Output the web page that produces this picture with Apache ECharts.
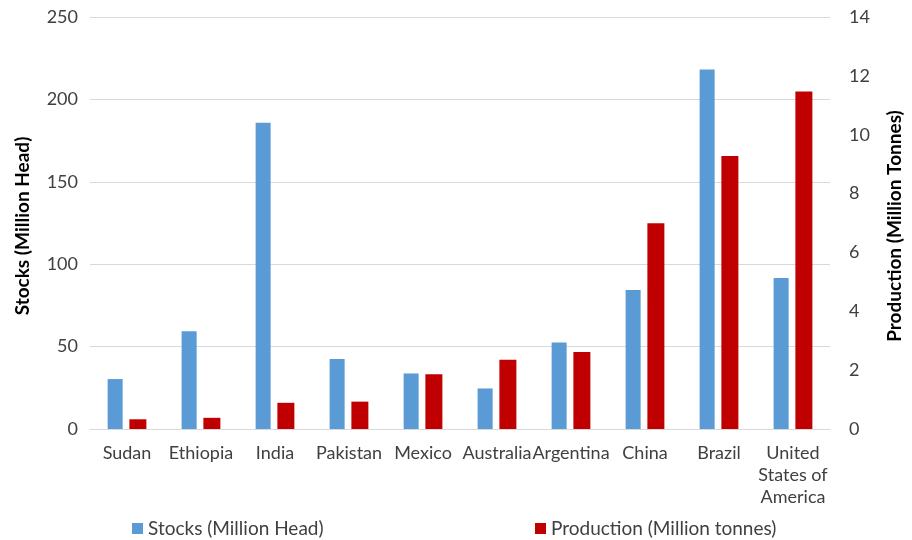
<!DOCTYPE html>
<html>
<head>
<meta charset="utf-8">
<script src="https://cdn.jsdelivr.net/npm/echarts@6/dist/echarts.min.js"></script>
<style>html,body{margin:0;padding:0;background:#fff}#c{width:912px;height:540px}</style>
</head>
<body>
<div id="c"></div>
<script>
const categories = ['Sudan','Ethiopia','India','Pakistan','Mexico','Australia','Argentina','China','Brazil','United\nStates of\nAmerica'];
const stocks = [30.3, 59.3, 185.8, 42.4, 33.7, 24.6, 52.5, 84.3, 218.1, 91.6];
const production = [0.33, 0.38, 0.89, 0.93, 1.86, 2.35, 2.62, 6.99, 9.28, 11.47];
const leftTicks = [0, 50, 100, 150, 200, 250];
const rightTicks = [0, 2, 4, 6, 8, 10, 12, 14];

const FONT = 'Lato';
const TXT = '#404040';
const FS = 18;
const chart = echarts.init(document.getElementById('c'));
chart.setOption({
  animation: false,
  textStyle: { fontFamily: FONT },
  grid: { left: 90, right: 82, top: 17, bottom: 111, containLabel: false },
  legend: [
    { left: 132, top: 519, padding: 0, itemWidth: 11, itemHeight: 11, icon: 'rect', itemGap: 0,
      data: ['Stocks (Million Head)'], textStyle: { fontFamily: FONT, fontSize: 19, color: TXT } },
    { left: 535, top: 519, padding: 0, itemWidth: 11, itemHeight: 11, icon: 'rect', itemGap: 0,
      data: ['Production (Million tonnes)'], textStyle: { fontFamily: FONT, fontSize: 19, color: TXT } }
  ],
  xAxis: {
    type: 'category',
    data: categories,
    axisLine: { lineStyle: { color: '#d9d9d9', width: 1 } },
    axisTick: { show: false },
    axisLabel: { interval: 0, fontFamily: FONT, fontSize: FS, color: TXT, lineHeight: 22, margin: 13 }
  },
  yAxis: [
    {
      type: 'value', min: leftTicks[0], max: leftTicks[leftTicks.length - 1], interval: leftTicks[1] - leftTicks[0],
      name: 'Stocks (Million Head)', nameLocation: 'middle', nameGap: 58, nameRotate: 90,
      nameTextStyle: { fontFamily: FONT, fontSize: 19, fontWeight: 'bold', color: '#000', padding: [0, 6, 0, 0] },
      axisLine: { show: false }, axisTick: { show: false },
      axisLabel: { fontFamily: FONT, fontSize: FS, color: TXT, margin: 12 },
      splitLine: { lineStyle: { color: '#d9d9d9', width: 1 } }
    },
    {
      type: 'value', min: rightTicks[0], max: rightTicks[rightTicks.length - 1], interval: rightTicks[1] - rightTicks[0],
      position: 'right',
      name: 'Production (Million Tonnes)', nameLocation: 'middle', nameGap: 55, nameRotate: 90,
      nameTextStyle: { fontFamily: FONT, fontSize: 19, fontWeight: 'bold', color: '#000', padding: [0, 6, 0, 0] },
      axisLine: { show: false }, axisTick: { show: false },
      axisLabel: { fontFamily: FONT, fontSize: FS, color: TXT, margin: 19 },
      splitLine: { show: false }
    }
  ],
  series: [
    { name: 'Stocks (Million Head)', type: 'bar', yAxisIndex: 0, data: stocks,
      barWidth: 15, barGap: '45%', itemStyle: { color: '#5B9BD5' } },
    { name: 'Production (Million tonnes)', type: 'bar', yAxisIndex: 1, data: production,
      barWidth: 17, barGap: '45%', itemStyle: { color: '#C00000' } }
  ]
});
</script>
</body>
</html>
